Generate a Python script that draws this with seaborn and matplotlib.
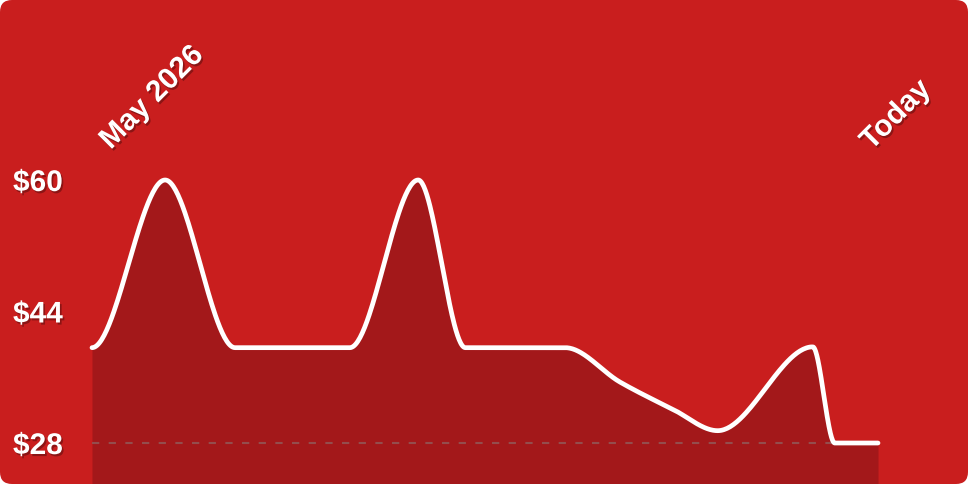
import numpy as np
import pandas as pd
import matplotlib
matplotlib.use("Agg")
import matplotlib.pyplot as plt
import matplotlib.patheffects as pe
from matplotlib.patches import FancyBboxPatch
from matplotlib.transforms import IdentityTransform
import seaborn as sns

# ---- data (day offset from start of range, price in $) ----
days = [0.0, 9.3, 18.2, 32.8, 41.5, 47.5, 60.2, 67.2, 73.9, 79.6, 91.7, 94.5, 100.0]
prices = [39.6, 60.0, 39.6, 39.6, 60.0, 39.6, 39.6, 35.4, 32.1, 29.5, 39.7, 28.0, 28.0]
tick_values = [28, 44, 60]
tick_labels = ["$28", "$44", "$60"]
start_label = "May 2026"
end_label = "Today"

BG = "#C91E1E"
FILL = "#A3181A"


def monotone_curve(x, y, n_per_seg=60):
    x = np.asarray(x, float)
    y = np.asarray(y, float)
    h = np.diff(x)
    s = np.diff(y) / h
    t = np.zeros_like(y)
    for i in range(1, len(x) - 1):
        s0, s1 = s[i - 1], s[i]
        p = (s0 * h[i] + s1 * h[i - 1]) / (h[i - 1] + h[i])
        t[i] = (np.sign(s0) + np.sign(s1)) * min(abs(s0), abs(s1), 0.5 * abs(p))
    xs, ys = [], []
    for i in range(len(x) - 1):
        u = np.linspace(0, 1, n_per_seg, endpoint=(i == len(x) - 2))
        h00 = 2 * u**3 - 3 * u**2 + 1
        h10 = u**3 - 2 * u**2 + u
        h01 = -2 * u**3 + 3 * u**2
        h11 = u**3 - u**2
        xs.append(x[i] + u * h[i])
        ys.append(h00 * y[i] + h10 * h[i] * t[i] + h01 * y[i + 1] + h11 * h[i] * t[i + 1])
    return np.concatenate(xs), np.concatenate(ys)


cx, cy = monotone_curve(days, prices)
curve = pd.DataFrame({"day": cx, "price": cy})

plt.rcParams["font.family"] = ["Liberation Sans", "DejaVu Sans"]

W, H = 968, 484
fig = plt.figure(figsize=(W / 100, H / 100), dpi=100)
fig.patch.set_facecolor("white")
bg = FancyBboxPatch((0, 0), W, H, boxstyle="round,pad=0,rounding_size=12",
                    transform=IdentityTransform(), facecolor=BG, edgecolor="none", zorder=-10)
fig.add_artist(bg)

ax = fig.add_axes([92 / W, 0, 786 / W, 324 / H])
ax.set_facecolor("none")
for sp in ax.spines.values():
    sp.set_visible(False)

ylo = 28 - (484 - 443) / 8.22
yhi = 60 + (180 - 160) / 8.22
ax.set_xlim(days[0], days[-1])
ax.set_ylim(ylo, yhi)

ax.fill_between(curve["day"], curve["price"], ylo, color=FILL, linewidth=0, zorder=1)
ax.axhline(28, color=(0.58, 0.30, 0.30), lw=1.5, dashes=(3.5, 4.5), zorder=2)
sns.lineplot(data=curve, x="day", y="price", ax=ax, color="white", lw=3.4,
             solid_capstyle="round", solid_joinstyle="round", zorder=3, clip_on=False)

shadow = [pe.SimplePatchShadow(offset=(1.2, -1.5), shadow_rgbFace="black", alpha=0.3), pe.Normal()]

FS = 21.5
ax.set_xticks([])
ax.set_xlabel("")
ax.set_ylabel("")
ax.set_yticks(tick_values)
ax.set_yticklabels(tick_labels)
ax.tick_params(axis="y", length=0, pad=79 * 72 / 100)
for lab in ax.get_yticklabels():
    lab.set_horizontalalignment("left")
    lab.set_color("white")
    lab.set_fontsize(FS)
    lab.set_fontweight("bold")
    lab.set_path_effects(shadow)

fig.text(152 / W, 1 - 97.5 / H, start_label, rotation=45, ha="center", va="center",
         rotation_mode="anchor", color="white", fontsize=FS, fontweight="bold",
         path_effects=shadow)
fig.text(896 / W, 1 - 115 / H, end_label, rotation=45, ha="center", va="center",
         rotation_mode="anchor", color="white", fontsize=FS, fontweight="bold",
         path_effects=shadow)

fig.savefig("out.png", dpi=100, facecolor=fig.get_facecolor())
